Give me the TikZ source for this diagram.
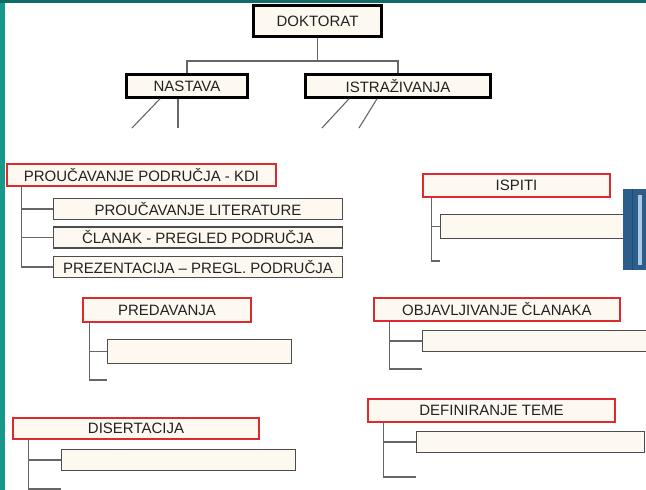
\documentclass[tikz,border=0pt]{standalone}
\usepackage{fontspec}
\setmainfont{Liberation Sans}
\definecolor{cream}{HTML}{FDF8F0}
\definecolor{boxred}{HTML}{DC2A2E}
\definecolor{txt}{HTML}{222222}
\definecolor{tealside}{HTML}{17988B}
\definecolor{tealtop}{HTML}{0D6C64}
\definecolor{slideblue}{HTML}{2B5E8A}
\definecolor{slidebar}{HTML}{AEC9E2}
\tikzset{
  topbox/.style={draw=black,line width=2.6pt,fill=cream,text=txt,inner sep=0pt},
  redbox/.style={draw=boxred,line width=1.8pt,fill=cream,text=txt,inner sep=0pt},
  subbox/.style={draw=black!70,line width=1.2pt,fill=cream,text=txt,inner sep=0pt},
  conn/.style={draw=black!60,line width=1.1pt}
}
\begin{document}
\begin{tikzpicture}[x=1pt,y=-1pt,font=\fontsize{15}{18}\selectfont]
  \useasboundingbox (0,0) rectangle (646,490);
  \fill[white] (0,0) rectangle (646,490);
  \fill[tealside] (0,0) rectangle (5,490);
  \fill[tealtop] (0,0) rectangle (646,3);
  % top of the tree
  \node[topbox,minimum width=128pt,minimum height=31pt] (doktorat) at (317.5,21) {DOKTORAT};
  \node[topbox,minimum width=121pt,minimum height=23pt] (nastava) at (187,86) {NASTAVA};
  \node[topbox,minimum width=185pt,minimum height=23pt] (istrazivanja) at (398,86) {ISTRAŽIVANJA};
  \coordinate (split) at (317.5,61);
  \draw[conn] (doktorat.south) -- (split) -| (nastava.north);
  \draw[conn] (split) -| (istrazivanja.north);
  \coordinate (na1) at (132,128);
  \coordinate (na2) at (178,128);
  \coordinate (is1) at (322,128);
  \coordinate (is2) at (359,128);
  \draw[conn] ([xshift=-27pt]nastava.south) -- (na1);
  \draw[conn] ([xshift=-9pt]nastava.south) -- (na2);
  \draw[conn] ([xshift=-49pt]istrazivanja.south) -- (is1);
  \draw[conn] ([xshift=-21pt]istrazivanja.south) -- (is2);
  % PROUČAVANJE PODRUČJA
  \node[redbox,minimum width=269pt,minimum height=22pt] (kdi) at (141.5,175) {PROUČAVANJE PODRUČJA - KDI};
  \node[subbox,minimum width=289pt,minimum height=21pt] (lit) at (198,209) {PROUČAVANJE LITERATURE};
  \node[subbox,minimum width=289pt,minimum height=21pt] (clanak) at (198,237.5) {ČLANAK - PREGLED PODRUČJA};
  \node[subbox,minimum width=289pt,minimum height=21pt] (prez) at (198,267) {PREZENTACIJA – PREGL. PODRUČJA};
  \draw[conn] ([xshift=15pt]kdi.south west) |- (prez.west);
  \draw[conn] ([xshift=15pt]kdi.south west) |- (lit.west);
  \draw[conn] ([xshift=15pt]kdi.south west) |- (clanak.west);
  % ISPITI
  \node[redbox,minimum width=187pt,minimum height=23pt] (ispiti) at (516.5,185.5) {ISPITI};
  \node[subbox,minimum width=199pt,minimum height=24pt] (ispiti1) at (540,226.5) {};
  \coordinate (ispitiend) at (440,261);
  \draw[conn] ([xshift=9pt]ispiti.south west) |- (ispiti1.west);
  \draw[conn] ([xshift=9pt]ispiti.south west) |- (ispitiend);
  % PREDAVANJA
  \node[redbox,minimum width=168pt,minimum height=24pt] (predavanja) at (167,310) {PREDAVANJA};
  \node[subbox,minimum width=184pt,minimum height=24pt] (pred1) at (199.5,351.5) {};
  \coordinate (predend) at (107,380);
  \draw[conn] ([xshift=7pt]predavanja.south west) |- (pred1.west);
  \draw[conn] ([xshift=7pt]predavanja.south west) |- (predend);
  % OBJAVLJIVANJE ČLANAKA
  \node[redbox,minimum width=246pt,minimum height=23pt] (objavljivanje) at (497,309.5) {OBJAVLJIVANJE ČLANAKA};
  \node[subbox,minimum width=237pt,minimum height=21pt] (obj1) at (541,341) {};
  \coordinate (objend) at (422,369);
  \draw[conn] ([xshift=16pt]objavljivanje.south west) |- (obj1.west);
  \draw[conn] ([xshift=16pt]objavljivanje.south west) |- (objend);
  % DISERTACIJA
  \node[redbox,minimum width=246pt,minimum height=21pt] (disertacija) at (136,428.5) {DISERTACIJA};
  \node[subbox,minimum width=234pt,minimum height=21pt] (dis1) at (178.5,460) {};
  \coordinate (disend) at (61,489);
  \draw[conn] ([xshift=16pt]disertacija.south west) |- (dis1.west);
  \draw[conn] ([xshift=16pt]disertacija.south west) |- (disend);
  % DEFINIRANJE TEME
  \node[redbox,minimum width=247pt,minimum height=23pt] (definiranje) at (491.5,410.5) {DEFINIRANJE TEME};
  \node[subbox,minimum width=228pt,minimum height=21pt] (def1) at (530.5,442) {};
  \coordinate (defend) at (416,477);
  \draw[conn] ([xshift=16pt]definiranje.south west) |- (def1.west);
  \draw[conn] ([xshift=16pt]definiranje.south west) |- (defend);
  % blue panel at the right edge
  \fill[slideblue] (623,189) rectangle (646,270);
  \draw[slideblue!80!black,line width=0.6pt] (632,189) -- (632,270);
  \fill[slidebar] (638,195) rectangle (642,265);
\end{tikzpicture}
\end{document}
